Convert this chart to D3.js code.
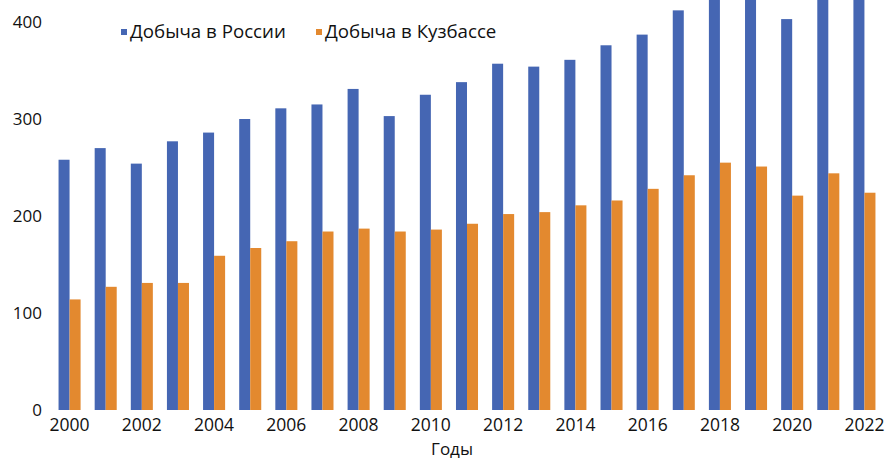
<!DOCTYPE html>
<html>
<head>
<meta charset="utf-8">
<script src="https://cdn.jsdelivr.net/npm/d3@7"></script>
<style>
    body { margin: 0; background: #fff; }
    text { font-family: "Open Sans", "Noto Sans", sans-serif; fill: #111; }
</style>
</head>
<body>
<div id="chart"></div>
<script>
// Data
var years = [2000, 2001, 2002, 2003, 2004, 2005, 2006, 2007, 2008, 2009, 2010, 2011,
             2012, 2013, 2014, 2015, 2016, 2017, 2018, 2019, 2020, 2021, 2022];
var russia = [258, 270, 254, 277, 286, 300, 311, 315, 331, 303, 325, 338,
              357, 354, 361, 376, 387, 412, 441, 441, 403, 438, 443];
var kuzbass = [114, 127, 131, 131, 159, 167, 174, 184, 187, 184, 186, 192,
               202, 204, 211, 216, 228, 242, 255, 251, 221, 244, 224];
var yTicks = [0, 100, 200, 300, 400];
var seriesNames = ["Добыча в России", "Добыча в Кузбассе"];
var colors = ["#4566b3", "#e3892f"];

var svgWidth = 890;
var svgHeight = 460;

var svg = d3.select("#chart")
    .append("svg")
    .attr("width", svgWidth)
    .attr("height", svgHeight);

// scales
var x = d3.scaleBand()
    .domain(years)
    .range([51.5, 882.5])
    .paddingInner(0.39)
    .paddingOuter(0.195);

var x1 = d3.scaleBand()
    .domain([0, 1])
    .range([0, x.bandwidth()]);

var y = d3.scaleLinear()
    .domain([0, 400])
    .range([410, 22]);

// bars
var groups = svg.selectAll(".year")
    .data(years)
    .enter()
    .append("g")
    .attr("transform", d => `translate(${x(d)},0)`);

groups.selectAll("rect")
    .data((d, i) => [russia[i], kuzbass[i]])
    .enter()
    .append("rect")
    .attr("x", (d, j) => x1(j))
    .attr("y", d => y(d))
    .attr("width", x1.bandwidth())
    .attr("height", d => y(0) - y(d))
    .attr("fill", (d, j) => colors[j]);

// y axis (labels only)
var yAxis = d3.axisLeft(y).tickValues(yTicks).tickSize(0).tickPadding(0);
var yG = svg.append("g")
    .attr("transform", "translate(42,0)")
    .call(yAxis);
yG.select(".domain").remove();
yG.selectAll("text")
    .style("font-size", "17px")
    .attr("fill", "#111");

// x axis (every second year)
var xAxis = d3.axisBottom(x)
    .tickValues(years.filter(d => d % 2 === 0))
    .tickSize(0)
    .tickPadding(0);
var xG = svg.append("g")
    .attr("transform", "translate(0,419)")
    .call(xAxis);
xG.select(".domain").remove();
xG.selectAll("text")
    .style("font-size", "17.5px")
    .attr("fill", "#111");

// axis title
svg.append("text")
    .attr("x", 452)
    .attr("y", 455)
    .attr("text-anchor", "middle")
    .style("font-size", "17px")
    .text("Годы");

// legend
var legendX = [121, 316];
seriesNames.forEach(function(name, i) {
    svg.append("rect")
        .attr("x", legendX[i])
        .attr("y", 29)
        .attr("width", 6)
        .attr("height", 6)
        .attr("fill", colors[i]);
    svg.append("text")
        .attr("x", legendX[i] + 9)
        .attr("y", 38)
        .style("font-size", "18.7px")
        .text(name);
});
</script>
</body>
</html>
